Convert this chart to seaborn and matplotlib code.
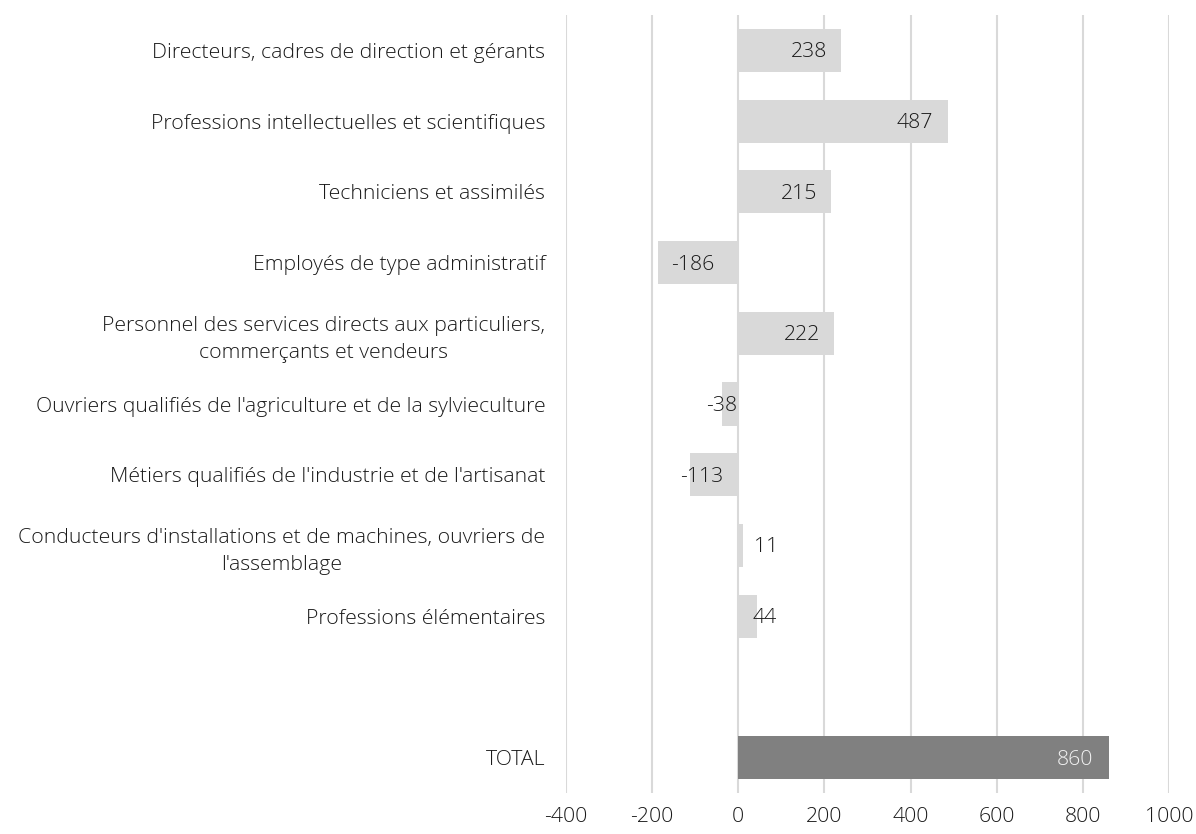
import matplotlib
matplotlib.use("Agg")
import matplotlib.pyplot as plt
import seaborn as sns
import pandas as pd
import numpy as np
from matplotlib.transforms import offset_copy

categories = [
    "Directeurs, cadres de direction et gérants",
    "Professions intellectuelles et scientifiques",
    "Techniciens et assimilés",
    "Employés de type administratif",
    "Personnel des services directs aux particuliers,\ncommerçants et vendeurs",
    "Ouvriers qualifiés de l'agriculture et de la sylvieculture",
    "Métiers qualifiés de l'industrie et de l'artisanat",
    "Conducteurs d'installations et de machines, ouvriers de\nl'assemblage",
    "Professions élémentaires",
    " ",
    "TOTAL",
]
values = [238, 487, 215, -186, 222, -38, -113, 11, 44, np.nan, 860]
groups = ["part"] * 10 + ["total"]
x_ticks = [-400, -200, 0, 200, 400, 600, 800, 1000]

df = pd.DataFrame({"cat": categories, "val": values, "grp": groups})

sns.set_theme(style="white")
plt.rcParams["font.family"] = ["Open Sans", "DejaVu Sans"]
plt.rcParams["font.weight"] = 300

FS = 15.3
TXT = "#1a1a1a"

fig = plt.figure(figsize=(11.96, 8.34), dpi=100)
ax = fig.add_axes([566 / 1196, 1 - 793 / 834, (1169 - 566) / 1196, (793 - 15) / 834])

for x in x_ticks:
    ax.axvline(x, color="#D9D9D9", lw=1.5, zorder=0)

sns.barplot(data=df, x="val", y="cat", hue="grp", order=categories,
            palette={"part": "#D9D9D9", "total": "#808080"},
            orient="h", width=0.61, dodge=False, legend=False, ax=ax,
            saturation=1, linewidth=0, zorder=2)

ax.set_xlim(-400, 1000)
ax.set_ylim(len(categories) - 0.5, -0.5)
ax.set_xticks(x_ticks)
ax.set_xticklabels([str(t) for t in x_ticks])
ax.set_xlabel("")
ax.set_ylabel("")
for s in ax.spines.values():
    s.set_visible(False)
ax.tick_params(axis="y", length=0, pad=15, labelsize=FS, labelcolor=TXT)
ax.tick_params(axis="x", length=0, pad=10, labelsize=FS, labelcolor=TXT)
for lbl in ax.get_yticklabels():
    lbl.set_multialignment("center")
    lbl.set_linespacing(1.45)
    lbl.set_fontweight(300)
for lbl in ax.get_xticklabels():
    lbl.set_fontweight(300)

# label placement: (ha, offset in pixels from bar end)
label_place = {
    238: ("right", -14), 487: ("right", -15), 215: ("right", -14),
    -186: ("left", 13), 222: ("right", -14), -38: ("left", -16),
    -113: ("left", -10), 11: ("left", 11), 44: ("right", 20), 860: ("right", -16),
}
for i, (c, v, g) in enumerate(zip(categories, values, groups)):
    if np.isnan(v):
        continue
    ha, dx = label_place[int(v)]
    tr = offset_copy(ax.transData, fig=fig, x=dx, y=-2, units="dots")
    ax.text(v, i, f"{int(v)}", transform=tr, ha=ha, va="center",
            fontsize=FS, fontweight=300,
            color="#F2F2F2" if g == "total" else TXT, zorder=3)

fig.savefig("out.png", dpi=100)
